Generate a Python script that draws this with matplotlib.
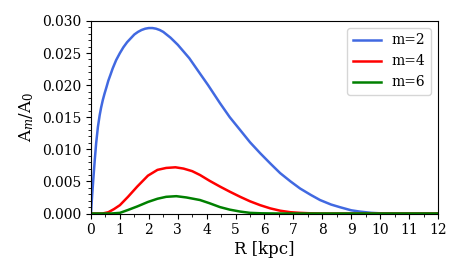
import matplotlib
matplotlib.use('Agg')
import matplotlib.pyplot as plt
from matplotlib.ticker import MultipleLocator

plt.rcParams['font.family'] = 'DejaVu Serif'
plt.rcParams['mathtext.fontset'] = 'dejavuserif'

# values
r_m2 = [0, 0.02, 0.045, 0.08, 0.13, 0.18, 0.24, 0.3, 0.35, 0.41, 0.47, 0.53,
        0.6, 0.68, 0.75, 0.87, 1.0, 1.12, 1.25, 1.375, 1.5, 1.625, 1.75,
        1.875, 2.0, 2.125, 2.25, 2.375, 2.5, 2.75, 3.0, 3.4, 3.77, 4.05,
        4.46, 4.8, 5.16, 5.5, 5.85, 6.2, 6.54, 6.9, 7.23, 7.6, 7.92, 8.3,
        8.62, 9.0, 9.31, 9.7, 10.0, 10.5, 12.0]
a_m2 = [0, 0.0015, 0.0031, 0.0053, 0.0083, 0.0110, 0.0135, 0.0153, 0.0165,
        0.0177, 0.0187, 0.0196, 0.0207, 0.0217, 0.0226, 0.0239, 0.0250,
        0.0259, 0.0267, 0.0273, 0.0279, 0.0283, 0.0286, 0.0288, 0.0289,
        0.0289, 0.0288, 0.0286, 0.0283, 0.0274, 0.0263, 0.0242, 0.0218,
        0.0200, 0.0172, 0.0150, 0.0130, 0.0111, 0.0094, 0.0078, 0.0063,
        0.0050, 0.0039, 0.0029, 0.0021, 0.0014, 0.00097, 0.0005, 0.00029,
        0.0001, 0.00003, 0.0, 0.0]

r_m4 = [0, 0.4, 0.6, 0.8, 1.0, 1.28, 1.6, 1.97, 2.3, 2.6, 2.92, 3.2, 3.5,
        3.77, 4.1, 4.46, 4.8, 5.16, 5.5, 5.85, 6.2, 6.54, 6.9, 7.23, 7.6,
        8.0, 12.0]
a_m4 = [0, 0, 0.0002, 0.0007, 0.0013, 0.0026, 0.0042, 0.0059, 0.0068,
        0.0071, 0.0072, 0.0070, 0.0066, 0.0060, 0.0051, 0.0042, 0.0034,
        0.0026, 0.0019, 0.0013, 0.0008, 0.00044, 0.0002, 0.0001, 0.00003,
        0, 0]

r_m6 = [0, 0.7, 1.0, 1.28, 1.6, 1.97, 2.3, 2.6, 2.95, 3.3, 3.77, 4.1, 4.46,
        4.8, 5.16, 5.5, 5.9, 6.5, 12.0]
a_m6 = [0, 0, 0.0001, 0.00055, 0.0011, 0.0018, 0.0023, 0.0026, 0.0027,
        0.0025, 0.0021, 0.0016, 0.0010, 0.0006, 0.0003, 0.0001, 0.00003,
        0, 0]

fig = plt.figure(figsize=(4.63, 2.78), dpi=100)
ax = fig.add_axes([0.1965, 0.232, 0.7495, 0.6925])

ax.plot(r_m2, a_m2, color='royalblue', lw=1.8, label='m=2')
ax.plot(r_m4, a_m4, color='red', lw=1.8, label='m=4')
ax.plot(r_m6, a_m6, color='green', lw=1.8, label='m=6')

ax.set_xlim(0, 12)
ax.set_ylim(0, 0.030)
ax.xaxis.set_major_locator(MultipleLocator(1))
ax.xaxis.set_minor_locator(MultipleLocator(0.5))
ax.yaxis.set_major_locator(MultipleLocator(0.005))
ax.yaxis.set_minor_locator(MultipleLocator(0.001))
ax.tick_params(labelsize=10)

ax.set_xlabel('R [kpc]', fontsize=12, labelpad=3)
ax.set_ylabel(r'A$_m$/A$_0$', fontsize=12)
ax.legend(loc='upper right', fontsize=10)

fig.savefig('out.png', dpi=100)
